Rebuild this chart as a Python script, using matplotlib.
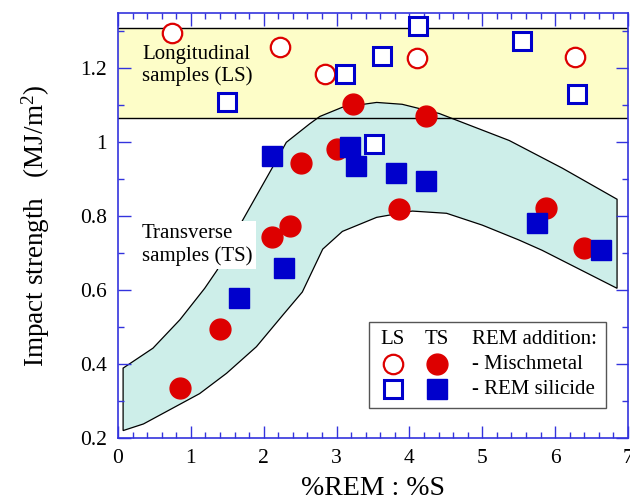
import matplotlib
matplotlib.use("Agg")
import matplotlib.pyplot as plt
from matplotlib.patches import Rectangle
from matplotlib.ticker import MultipleLocator, FormatStrFormatter

plt.rcParams['font.family'] = ['Liberation Serif', 'DejaVu Serif']
plt.rcParams['mathtext.fontset'] = 'custom'
plt.rcParams['mathtext.rm'] = 'Liberation Serif'
plt.rcParams['mathtext.it'] = 'Liberation Serif:italic'

# longitudinal samples
ls_misch_x = [0.74, 2.22, 2.84, 4.10, 6.27]
ls_misch_y = [1.297, 1.259, 1.184, 1.227, 1.230]
ls_sil_x = [1.49, 3.11, 3.63, 4.12, 5.55, 6.30, 3.52]
ls_sil_y = [1.108, 1.186, 1.235, 1.316, 1.273, 1.130, 0.995]

# transverse samples
ts_misch_x = [0.85, 1.40, 2.12, 2.36, 2.51, 3.00, 3.22, 4.23, 3.86, 5.88, 6.40]
ts_misch_y = [0.335, 0.495, 0.743, 0.773, 0.943, 0.981, 1.103, 1.070, 0.819, 0.822, 0.713]
ts_sil_x = [2.12, 1.66, 2.28, 3.19, 3.27, 3.82, 4.23, 5.75, 6.63]
ts_sil_y = [0.962, 0.578, 0.659, 0.987, 0.935, 0.918, 0.895, 0.781, 0.708]

# scatter band for transverse samples
upper_x = [0.07, 0.48, 0.85, 1.19, 1.36, 1.71, 2.12, 2.31, 2.63, 2.77, 3.08, 3.55, 3.90, 4.41, 5.37, 6.10, 6.85]
upper_y = [0.389, 0.443, 0.52, 0.605, 0.654, 0.789, 0.932, 1.0, 1.05, 1.07, 1.095, 1.108, 1.103, 1.078, 1.005, 0.93, 0.846]
lower_x = [0.07, 0.35, 1.12, 1.49, 1.90, 2.26, 2.53, 2.81, 3.08, 3.55, 4.04, 4.51, 5.0, 5.5, 5.82, 6.85]
lower_y = [0.22, 0.238, 0.32, 0.375, 0.447, 0.532, 0.595, 0.711, 0.759, 0.797, 0.814, 0.808, 0.776, 0.736, 0.708, 0.605]

# band for longitudinal samples
ls_band = (1.067, 1.31)

blue = '#0000cc'
red = '#dd0000'
axis_blue = '#3333dd'

fig = plt.figure(figsize=(6.3, 5.04), dpi=100)
ax = fig.add_axes([0.1873, 0.131, 0.8095, 0.8432])

ax.axhspan(ls_band[0], ls_band[1], color='#fdfdc8', zorder=0, lw=0)
ax.fill(upper_x + lower_x[::-1], upper_y + lower_y[::-1],
        facecolor='#cdeee9', edgecolor='black', lw=0.9, zorder=1)
for yb in ls_band:
    ax.axhline(yb, color='black', lw=1.0, zorder=2)

ax.plot(ls_misch_x, ls_misch_y, 'o', ms=14, mfc='white', mec=red, mew=1.6, ls='none', zorder=5)
ax.plot(ls_sil_x, ls_sil_y, 's', ms=13, mfc='white', mec=blue, mew=2.2, ls='none', zorder=5)
ax.plot(ts_misch_x, ts_misch_y, 'o', ms=15, mfc=red, mec=red, ls='none', zorder=5)
ax.plot(ts_sil_x, ts_sil_y, 's', ms=15, mfc=blue, mec=blue, ls='none', zorder=5)

ax.text(0.33, 1.208, 'Longitudinal\nsamples (LS)', fontsize=15, va='center', ha='left', zorder=3)
ax.text(0.33, 0.722, 'Transverse\nsamples (TS)', fontsize=15, va='center', ha='left', zorder=3,
        bbox=dict(boxstyle='square,pad=0.15', fc='white', ec='none'))

# legend box
ax.add_patch(Rectangle((0.492, 0.0706), 0.465, 0.2024, transform=ax.transAxes,
                       fc='white', ec='#555555', lw=1.0, zorder=6))
rows = [0.231, 0.174, 0.115]
ax.text(0.539, rows[0], 'LS', transform=ax.transAxes, fontsize=15, ha='center', va='center', zorder=7)
ax.text(0.625, rows[0], 'TS', transform=ax.transAxes, fontsize=15, ha='center', va='center', zorder=7)
ax.text(0.694, rows[0], 'REM addition:', transform=ax.transAxes, fontsize=15, ha='left', va='center', zorder=7)
ax.plot([0.539], [rows[1]], 'o', ms=14, mfc='white', mec=red, mew=1.6, transform=ax.transAxes, zorder=7)
ax.plot([0.625], [rows[1]], 'o', ms=15, mfc=red, mec=red, transform=ax.transAxes, zorder=7)
ax.text(0.694, rows[1], '- Mischmetal', transform=ax.transAxes, fontsize=15, ha='left', va='center', zorder=7)
ax.plot([0.539], [rows[2]], 's', ms=13, mfc='white', mec=blue, mew=2.2, transform=ax.transAxes, zorder=7)
ax.plot([0.625], [rows[2]], 's', ms=15, mfc=blue, mec=blue, transform=ax.transAxes, zorder=7)
ax.text(0.694, rows[2], '- REM silicide', transform=ax.transAxes, fontsize=15, ha='left', va='center', zorder=7)

ax.set_xlim(0, 7)
ax.set_ylim(0.2, 1.35)
ax.xaxis.set_major_locator(MultipleLocator(1))
ax.xaxis.set_minor_locator(MultipleLocator(0.2))
ax.yaxis.set_major_locator(MultipleLocator(0.2))
ax.yaxis.set_minor_locator(MultipleLocator(0.1))
ax.xaxis.set_major_formatter(FormatStrFormatter('%g'))
ax.yaxis.set_major_formatter(FormatStrFormatter('%g'))

ax.tick_params(which='both', direction='in', top=True, right=True, color=axis_blue,
               labelcolor='black', labelsize=15.5)
ax.tick_params(which='major', length=9, width=1.0, pad=8)
ax.tick_params(which='minor', length=4.5, width=1.0)
for sp in ax.spines.values():
    sp.set_color(axis_blue)
    sp.set_linewidth(1.2)

ax.set_xlabel('%REM : %S', fontsize=20, labelpad=6)
ax.set_ylabel('Impact strength   (MJ/m$^2$)', fontsize=19.5, labelpad=20)

fig.savefig('out.png', dpi=100)
